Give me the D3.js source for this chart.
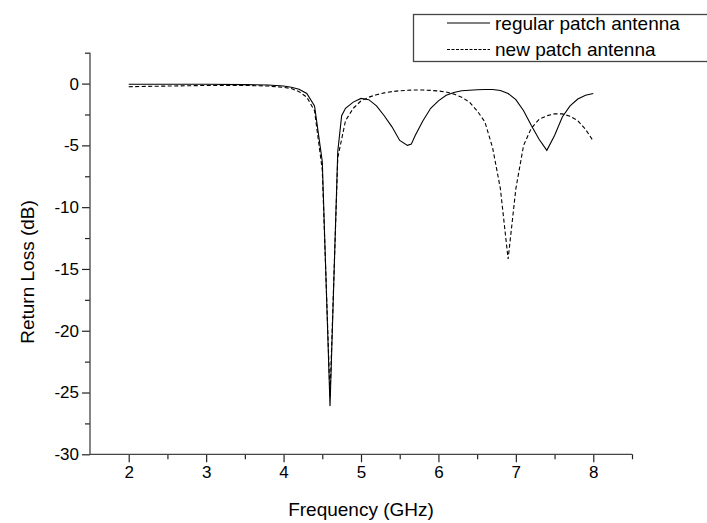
<!DOCTYPE html>
<html><head><meta charset="utf-8">
<script src="https://cdn.jsdelivr.net/npm/d3@7"></script>
<style>
html,body{margin:0;padding:0;background:#fff;}
text{font-family:"Liberation Sans",Arial,sans-serif;fill:#000;}
</style></head>
<body><svg id="c" width="707" height="523"></svg>
<script>
const freq    = [2.0,2.5,3.0,3.5,3.8,4.0,4.1,4.2,4.3,4.4,4.5,4.6,4.7,4.75,4.8,4.9,5.0,5.1,5.2,5.3,5.4,5.5,5.6,5.65,5.7,5.8,5.9,6.0,6.1,6.2,6.3,6.5,6.6,6.7,6.8,6.9,7.0,7.1,7.2,7.3,7.4,7.5,7.6,7.7,7.8,7.9,8.0];
const regular = [-0.05,-0.05,-0.05,-0.08,-0.12,-0.2,-0.3,-0.45,-0.8,-1.8,-6.3,-26.1,-5.5,-2.6,-2.0,-1.5,-1.2,-1.3,-1.8,-2.6,-3.5,-4.6,-5.0,-4.9,-4.2,-3.0,-2.0,-1.4,-0.95,-0.72,-0.58,-0.5,-0.48,-0.48,-0.56,-0.8,-1.3,-2.2,-3.4,-4.5,-5.4,-4.2,-2.7,-1.8,-1.25,-0.95,-0.8];
const freqNew = [2.0,2.5,3.0,3.5,3.8,4.0,4.1,4.2,4.3,4.4,4.5,4.6,4.7,4.8,4.9,5.0,5.1,5.2,5.3,5.4,5.5,5.6,5.7,5.8,5.9,6.0,6.1,6.2,6.3,6.4,6.5,6.6,6.7,6.8,6.9,7.0,7.1,7.2,7.3,7.4,7.5,7.6,7.7,7.8,7.9,8.0];
const newAnt  = [-0.25,-0.2,-0.15,-0.15,-0.2,-0.3,-0.4,-0.65,-1.1,-2.2,-7.0,-25.3,-6.0,-3.0,-2.0,-1.4,-1.1,-0.9,-0.75,-0.65,-0.58,-0.54,-0.52,-0.52,-0.55,-0.6,-0.68,-0.85,-1.1,-1.5,-2.2,-3.1,-5.2,-8.5,-14.2,-8.5,-5.0,-3.6,-2.9,-2.6,-2.45,-2.45,-2.65,-3.0,-3.7,-4.66];
const xTicks = [2,3,4,5,6,7,8];
const xMinorTicks = [2.5,3.5,4.5,5.5,6.5,7.5,8.5];
const yTicks = [0,-5,-10,-15,-20,-25,-30];
const yMinorTicks = [2.5,-2.5,-7.5,-12.5,-17.5,-22.5,-27.5];
const seriesNames = ["regular patch antenna","new patch antenna"];
const xTitle = "Frequency (GHz)";
const yTitle = "Return Loss (dB)";

const svg = d3.select("#c");
const x = d3.scaleLinear().domain([1.5,8.5]).range([90,632]);
const y = d3.scaleLinear().domain([-30,2.5]).range([454.3,52.7]);
const fmt = d => String(d);

// axes
const gx = svg.append("g").attr("transform",`translate(0,${y(-30)})`)
  .call(d3.axisBottom(x).tickValues(xTicks).tickSize(8).tickFormat(fmt));
svg.append("g").attr("transform",`translate(0,${y(-30)})`)
  .call(d3.axisBottom(x).tickValues(xMinorTicks).tickSize(5).tickFormat(""));
const gy = svg.append("g").attr("transform",`translate(${x(1.5)},0)`)
  .call(d3.axisLeft(y).tickValues(yTicks).tickSize(8).tickFormat(fmt));
svg.append("g").attr("transform",`translate(${x(1.5)},0)`)
  .call(d3.axisLeft(y).tickValues(yMinorTicks).tickSize(5).tickFormat(""));
svg.selectAll(".domain").remove();
svg.selectAll(".tick line").attr("stroke","#222").attr("stroke-width",1.2);
gx.selectAll(".tick text").attr("font-size",17).attr("y",11).attr("dy","0.72em");
gy.selectAll(".tick text").attr("font-size",17).attr("x",-11);
svg.append("line").attr("x1",x(1.5)).attr("x2",x(8.5)).attr("y1",y(-30)).attr("y2",y(-30)).attr("stroke","#444").attr("stroke-width",1.3);
svg.append("line").attr("x1",x(1.5)).attr("x2",x(1.5)).attr("y1",y(-30)).attr("y2",y(2.5)).attr("stroke","#444").attr("stroke-width",1.3);

// lines
const line = d3.line().x(d=>x(d[0])).y(d=>y(d[1]));
svg.append("path").datum(freq.map((f,i)=>[f,regular[i]])).attr("d",line)
  .attr("fill","none").attr("stroke","#000").attr("stroke-width",1.1);
svg.append("path").datum(freqNew.map((f,i)=>[f,newAnt[i]])).attr("d",line)
  .attr("fill","none").attr("stroke","#000").attr("stroke-width",1.1).attr("stroke-dasharray","4,2.5");

// titles
svg.append("text").attr("x",361).attr("y",516).attr("text-anchor","middle").attr("font-size",19).text(xTitle);
svg.append("text").attr("transform","translate(34,272) rotate(-90)").attr("text-anchor","middle").attr("font-size",19).text(yTitle);

// legend
const lg = svg.append("g");
lg.append("rect").attr("x",413.5).attr("y",14.5).attr("width",310).attr("height",47).attr("fill","#fff").attr("stroke","#444").attr("stroke-width",1.3);
seriesNames.forEach((n,i)=>{
  const yy = 23 + i*26.5;
  lg.append("line").attr("x1",447).attr("x2",490).attr("y1",yy).attr("y2",yy).attr("stroke","#000").attr("stroke-width",1.1)
    .attr("stroke-dasharray", i===1?"3,1.5":null);
  lg.append("text").attr("x",495).attr("y",yy).attr("dy","0.35em").attr("font-size",19).text(n);
});
</script></body></html>
